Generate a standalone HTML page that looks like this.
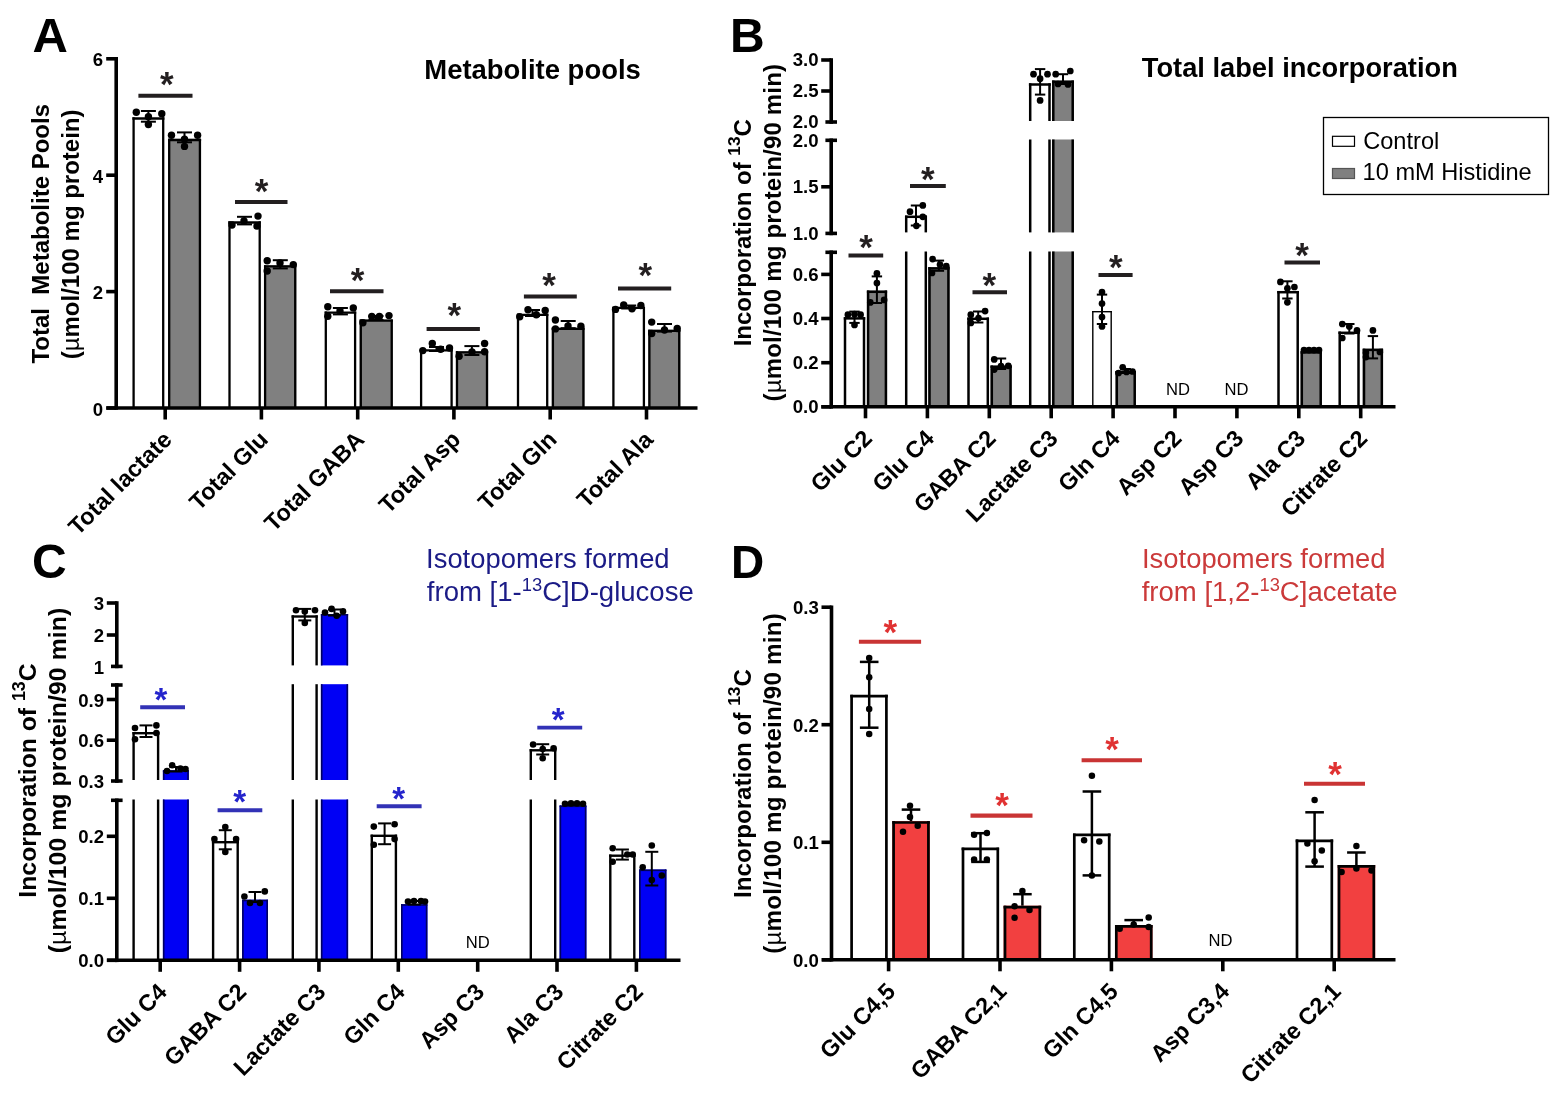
<!DOCTYPE html>
<html><head><meta charset="utf-8"><title>Figure</title>
<style>html,body{margin:0;padding:0;background:#fff}svg{display:block}text{font-family:"Liberation Sans",sans-serif}</style>
</head><body>
<svg width="1568" height="1100" viewBox="0 0 1568 1100">
<rect width="1568" height="1100" fill="#fff"/>
<text x="32.6" y="52.0" font-size="49" font-weight="bold" text-anchor="start" fill="#000" >A</text>
<rect x="132.4" y="117.3" width="32.0" height="290.7" fill="#fff" stroke="none" stroke-width="0"/>
<line x1="133.6" y1="117.3" x2="133.6" y2="408.0" stroke="#000" stroke-width="2.3" stroke-linecap="butt"/>
<line x1="163.2" y1="117.3" x2="163.2" y2="408.0" stroke="#000" stroke-width="2.3" stroke-linecap="butt"/>
<line x1="132.4" y1="118.5" x2="164.4" y2="118.5" stroke="#000" stroke-width="2.3" stroke-linecap="butt"/>
<line x1="148.4" y1="111.0" x2="148.4" y2="121.7" stroke="#000" stroke-width="2.0" stroke-linecap="butt"/>
<line x1="140.9" y1="111.0" x2="155.9" y2="111.0" stroke="#000" stroke-width="2.0" stroke-linecap="butt"/>
<line x1="140.9" y1="121.7" x2="155.9" y2="121.7" stroke="#000" stroke-width="2.0" stroke-linecap="butt"/>
<circle cx="136.3" cy="112.2" r="3.7" fill="#000"/>
<circle cx="161.8" cy="113.8" r="3.7" fill="#000"/>
<circle cx="148.4" cy="116.8" r="3.7" fill="#000"/>
<circle cx="148.4" cy="124.5" r="3.7" fill="#000"/>
<rect x="168.0" y="138.8" width="33.1" height="269.2" fill="#808080" stroke="none" stroke-width="0"/>
<line x1="169.2" y1="138.8" x2="169.2" y2="408.0" stroke="#000" stroke-width="2.3" stroke-linecap="butt"/>
<line x1="199.9" y1="138.8" x2="199.9" y2="408.0" stroke="#000" stroke-width="2.3" stroke-linecap="butt"/>
<line x1="168.0" y1="140.0" x2="201.1" y2="140.0" stroke="#000" stroke-width="2.3" stroke-linecap="butt"/>
<line x1="184.5" y1="132.4" x2="184.5" y2="142.3" stroke="#000" stroke-width="2.0" stroke-linecap="butt"/>
<line x1="177.0" y1="132.4" x2="192.0" y2="132.4" stroke="#000" stroke-width="2.0" stroke-linecap="butt"/>
<line x1="177.0" y1="142.3" x2="192.0" y2="142.3" stroke="#000" stroke-width="2.0" stroke-linecap="butt"/>
<circle cx="171.5" cy="135.2" r="3.7" fill="#000"/>
<circle cx="197.6" cy="135.2" r="3.7" fill="#000"/>
<circle cx="184.5" cy="139.3" r="3.7" fill="#000"/>
<circle cx="184.5" cy="146.4" r="3.7" fill="#000"/>
<rect x="228.3" y="221.3" width="32.5" height="186.7" fill="#fff" stroke="none" stroke-width="0"/>
<line x1="229.5" y1="221.3" x2="229.5" y2="408.0" stroke="#000" stroke-width="2.3" stroke-linecap="butt"/>
<line x1="259.7" y1="221.3" x2="259.7" y2="408.0" stroke="#000" stroke-width="2.3" stroke-linecap="butt"/>
<line x1="228.3" y1="222.5" x2="260.8" y2="222.5" stroke="#000" stroke-width="2.3" stroke-linecap="butt"/>
<line x1="244.5" y1="216.8" x2="244.5" y2="224.4" stroke="#000" stroke-width="2.0" stroke-linecap="butt"/>
<line x1="237.0" y1="216.8" x2="252.0" y2="216.8" stroke="#000" stroke-width="2.0" stroke-linecap="butt"/>
<line x1="237.0" y1="224.4" x2="252.0" y2="224.4" stroke="#000" stroke-width="2.0" stroke-linecap="butt"/>
<circle cx="258.0" cy="216.1" r="3.7" fill="#000"/>
<circle cx="232.0" cy="225.0" r="3.7" fill="#000"/>
<circle cx="257.0" cy="226.0" r="3.7" fill="#000"/>
<circle cx="244.0" cy="221.0" r="3.7" fill="#000"/>
<rect x="264.0" y="265.3" width="32.3" height="142.7" fill="#808080" stroke="none" stroke-width="0"/>
<line x1="265.1" y1="265.3" x2="265.1" y2="408.0" stroke="#000" stroke-width="2.3" stroke-linecap="butt"/>
<line x1="295.2" y1="265.3" x2="295.2" y2="408.0" stroke="#000" stroke-width="2.3" stroke-linecap="butt"/>
<line x1="264.0" y1="266.4" x2="296.3" y2="266.4" stroke="#000" stroke-width="2.3" stroke-linecap="butt"/>
<line x1="280.3" y1="260.2" x2="280.3" y2="268.4" stroke="#000" stroke-width="2.0" stroke-linecap="butt"/>
<line x1="272.8" y1="260.2" x2="287.8" y2="260.2" stroke="#000" stroke-width="2.0" stroke-linecap="butt"/>
<line x1="272.8" y1="268.4" x2="287.8" y2="268.4" stroke="#000" stroke-width="2.0" stroke-linecap="butt"/>
<circle cx="267.2" cy="260.8" r="3.7" fill="#000"/>
<circle cx="293.3" cy="264.6" r="3.7" fill="#000"/>
<circle cx="267.2" cy="271.0" r="3.7" fill="#000"/>
<circle cx="280.0" cy="263.0" r="3.7" fill="#000"/>
<rect x="324.6" y="311.5" width="31.6" height="96.5" fill="#fff" stroke="none" stroke-width="0"/>
<line x1="325.8" y1="311.5" x2="325.8" y2="408.0" stroke="#000" stroke-width="2.3" stroke-linecap="butt"/>
<line x1="355.1" y1="311.5" x2="355.1" y2="408.0" stroke="#000" stroke-width="2.3" stroke-linecap="butt"/>
<line x1="324.6" y1="312.6" x2="356.2" y2="312.6" stroke="#000" stroke-width="2.3" stroke-linecap="butt"/>
<line x1="340.4" y1="308.0" x2="340.4" y2="314.4" stroke="#000" stroke-width="2.0" stroke-linecap="butt"/>
<line x1="332.9" y1="308.0" x2="347.9" y2="308.0" stroke="#000" stroke-width="2.0" stroke-linecap="butt"/>
<line x1="332.9" y1="314.4" x2="347.9" y2="314.4" stroke="#000" stroke-width="2.0" stroke-linecap="butt"/>
<circle cx="327.8" cy="306.7" r="3.7" fill="#000"/>
<circle cx="327.8" cy="316.3" r="3.7" fill="#000"/>
<circle cx="353.3" cy="308.0" r="3.7" fill="#000"/>
<circle cx="340.0" cy="311.0" r="3.7" fill="#000"/>
<rect x="359.7" y="319.5" width="33.1" height="88.5" fill="#808080" stroke="none" stroke-width="0"/>
<line x1="360.8" y1="319.5" x2="360.8" y2="408.0" stroke="#000" stroke-width="2.3" stroke-linecap="butt"/>
<line x1="391.7" y1="319.5" x2="391.7" y2="408.0" stroke="#000" stroke-width="2.3" stroke-linecap="butt"/>
<line x1="359.7" y1="320.6" x2="392.8" y2="320.6" stroke="#000" stroke-width="2.3" stroke-linecap="butt"/>
<line x1="376.0" y1="316.0" x2="376.0" y2="320.0" stroke="#000" stroke-width="2.0" stroke-linecap="butt"/>
<line x1="368.5" y1="316.0" x2="383.5" y2="316.0" stroke="#000" stroke-width="2.0" stroke-linecap="butt"/>
<line x1="368.5" y1="320.0" x2="383.5" y2="320.0" stroke="#000" stroke-width="2.0" stroke-linecap="butt"/>
<circle cx="389.0" cy="315.6" r="3.7" fill="#000"/>
<circle cx="371.8" cy="316.5" r="3.7" fill="#000"/>
<circle cx="379.4" cy="316.5" r="3.7" fill="#000"/>
<circle cx="362.9" cy="322.7" r="3.7" fill="#000"/>
<rect x="420.0" y="349.3" width="32.7" height="58.7" fill="#fff" stroke="none" stroke-width="0"/>
<line x1="421.1" y1="349.3" x2="421.1" y2="408.0" stroke="#000" stroke-width="2.3" stroke-linecap="butt"/>
<line x1="451.6" y1="349.3" x2="451.6" y2="408.0" stroke="#000" stroke-width="2.3" stroke-linecap="butt"/>
<line x1="420.0" y1="350.4" x2="452.7" y2="350.4" stroke="#000" stroke-width="2.3" stroke-linecap="butt"/>
<line x1="436.5" y1="347.0" x2="436.5" y2="351.0" stroke="#000" stroke-width="2.0" stroke-linecap="butt"/>
<line x1="429.0" y1="347.0" x2="444.0" y2="347.0" stroke="#000" stroke-width="2.0" stroke-linecap="butt"/>
<line x1="429.0" y1="351.0" x2="444.0" y2="351.0" stroke="#000" stroke-width="2.0" stroke-linecap="butt"/>
<circle cx="432.3" cy="343.5" r="3.7" fill="#000"/>
<circle cx="422.8" cy="350.6" r="3.7" fill="#000"/>
<circle cx="449.5" cy="348.0" r="3.7" fill="#000"/>
<circle cx="440.6" cy="349.3" r="3.7" fill="#000"/>
<rect x="455.9" y="351.2" width="32.2" height="56.8" fill="#808080" stroke="none" stroke-width="0"/>
<line x1="457.0" y1="351.2" x2="457.0" y2="408.0" stroke="#000" stroke-width="2.3" stroke-linecap="butt"/>
<line x1="487.0" y1="351.2" x2="487.0" y2="408.0" stroke="#000" stroke-width="2.3" stroke-linecap="butt"/>
<line x1="455.9" y1="352.3" x2="488.1" y2="352.3" stroke="#000" stroke-width="2.3" stroke-linecap="butt"/>
<line x1="471.9" y1="346.1" x2="471.9" y2="355.0" stroke="#000" stroke-width="2.0" stroke-linecap="butt"/>
<line x1="464.4" y1="346.1" x2="479.4" y2="346.1" stroke="#000" stroke-width="2.0" stroke-linecap="butt"/>
<line x1="464.4" y1="355.0" x2="479.4" y2="355.0" stroke="#000" stroke-width="2.0" stroke-linecap="butt"/>
<circle cx="484.6" cy="343.5" r="3.7" fill="#000"/>
<circle cx="484.6" cy="351.8" r="3.7" fill="#000"/>
<circle cx="459.1" cy="356.3" r="3.7" fill="#000"/>
<circle cx="472.0" cy="352.0" r="3.7" fill="#000"/>
<rect x="516.9" y="313.6" width="31.5" height="94.4" fill="#fff" stroke="none" stroke-width="0"/>
<line x1="518.0" y1="313.6" x2="518.0" y2="408.0" stroke="#000" stroke-width="2.3" stroke-linecap="butt"/>
<line x1="547.2" y1="313.6" x2="547.2" y2="408.0" stroke="#000" stroke-width="2.3" stroke-linecap="butt"/>
<line x1="516.9" y1="314.8" x2="548.4" y2="314.8" stroke="#000" stroke-width="2.3" stroke-linecap="butt"/>
<line x1="532.5" y1="310.0" x2="532.5" y2="316.0" stroke="#000" stroke-width="2.0" stroke-linecap="butt"/>
<line x1="525.0" y1="310.0" x2="540.0" y2="310.0" stroke="#000" stroke-width="2.0" stroke-linecap="butt"/>
<line x1="525.0" y1="316.0" x2="540.0" y2="316.0" stroke="#000" stroke-width="2.0" stroke-linecap="butt"/>
<circle cx="528.0" cy="309.7" r="3.7" fill="#000"/>
<circle cx="545.2" cy="310.4" r="3.7" fill="#000"/>
<circle cx="519.7" cy="316.8" r="3.7" fill="#000"/>
<circle cx="536.3" cy="314.8" r="3.7" fill="#000"/>
<rect x="551.8" y="327.6" width="32.7" height="80.4" fill="#808080" stroke="none" stroke-width="0"/>
<line x1="552.9" y1="327.6" x2="552.9" y2="408.0" stroke="#000" stroke-width="2.3" stroke-linecap="butt"/>
<line x1="583.4" y1="327.6" x2="583.4" y2="408.0" stroke="#000" stroke-width="2.3" stroke-linecap="butt"/>
<line x1="551.8" y1="328.8" x2="584.5" y2="328.8" stroke="#000" stroke-width="2.3" stroke-linecap="butt"/>
<line x1="568.2" y1="321.0" x2="568.2" y2="328.2" stroke="#000" stroke-width="2.0" stroke-linecap="butt"/>
<line x1="560.7" y1="321.0" x2="575.7" y2="321.0" stroke="#000" stroke-width="2.0" stroke-linecap="butt"/>
<line x1="560.7" y1="328.2" x2="575.7" y2="328.2" stroke="#000" stroke-width="2.0" stroke-linecap="butt"/>
<circle cx="555.4" cy="320.0" r="3.7" fill="#000"/>
<circle cx="555.4" cy="328.9" r="3.7" fill="#000"/>
<circle cx="580.9" cy="326.3" r="3.7" fill="#000"/>
<circle cx="568.0" cy="326.0" r="3.7" fill="#000"/>
<rect x="612.3" y="306.8" width="32.7" height="101.2" fill="#fff" stroke="none" stroke-width="0"/>
<line x1="613.4" y1="306.8" x2="613.4" y2="408.0" stroke="#000" stroke-width="2.3" stroke-linecap="butt"/>
<line x1="643.9" y1="306.8" x2="643.9" y2="408.0" stroke="#000" stroke-width="2.3" stroke-linecap="butt"/>
<line x1="612.3" y1="307.9" x2="645.0" y2="307.9" stroke="#000" stroke-width="2.3" stroke-linecap="butt"/>
<line x1="628.7" y1="305.5" x2="628.7" y2="308.5" stroke="#000" stroke-width="2.0" stroke-linecap="butt"/>
<line x1="621.2" y1="305.5" x2="636.2" y2="305.5" stroke="#000" stroke-width="2.0" stroke-linecap="butt"/>
<line x1="621.2" y1="308.5" x2="636.2" y2="308.5" stroke="#000" stroke-width="2.0" stroke-linecap="butt"/>
<circle cx="615.5" cy="309.4" r="3.7" fill="#000"/>
<circle cx="623.7" cy="304.9" r="3.7" fill="#000"/>
<circle cx="632.0" cy="308.7" r="3.7" fill="#000"/>
<circle cx="640.9" cy="305.5" r="3.7" fill="#000"/>
<rect x="648.3" y="329.7" width="32.1" height="78.3" fill="#808080" stroke="none" stroke-width="0"/>
<line x1="649.4" y1="329.7" x2="649.4" y2="408.0" stroke="#000" stroke-width="2.3" stroke-linecap="butt"/>
<line x1="679.2" y1="329.7" x2="679.2" y2="408.0" stroke="#000" stroke-width="2.3" stroke-linecap="butt"/>
<line x1="648.3" y1="330.8" x2="680.4" y2="330.8" stroke="#000" stroke-width="2.3" stroke-linecap="butt"/>
<line x1="664.5" y1="324.0" x2="664.5" y2="331.6" stroke="#000" stroke-width="2.0" stroke-linecap="butt"/>
<line x1="657.0" y1="324.0" x2="672.0" y2="324.0" stroke="#000" stroke-width="2.0" stroke-linecap="butt"/>
<line x1="657.0" y1="331.6" x2="672.0" y2="331.6" stroke="#000" stroke-width="2.0" stroke-linecap="butt"/>
<circle cx="651.7" cy="322.1" r="3.7" fill="#000"/>
<circle cx="651.7" cy="333.5" r="3.7" fill="#000"/>
<circle cx="677.2" cy="328.5" r="3.7" fill="#000"/>
<circle cx="664.5" cy="330.0" r="3.7" fill="#000"/>
<line x1="116.2" y1="409.8" x2="116.2" y2="57.0" stroke="#000" stroke-width="3.6" stroke-linecap="butt"/>
<line x1="106.2" y1="408.0" x2="116.2" y2="408.0" stroke="#000" stroke-width="3.6" stroke-linecap="butt"/>
<text x="103.0" y="415.6" font-size="18.6" font-weight="bold" text-anchor="end" fill="#000" >0</text>
<line x1="106.2" y1="291.6" x2="116.2" y2="291.6" stroke="#000" stroke-width="3.6" stroke-linecap="butt"/>
<text x="103.0" y="299.2" font-size="18.6" font-weight="bold" text-anchor="end" fill="#000" >2</text>
<line x1="106.2" y1="175.2" x2="116.2" y2="175.2" stroke="#000" stroke-width="3.6" stroke-linecap="butt"/>
<text x="103.0" y="182.8" font-size="18.6" font-weight="bold" text-anchor="end" fill="#000" >4</text>
<line x1="106.2" y1="58.8" x2="116.2" y2="58.8" stroke="#000" stroke-width="3.6" stroke-linecap="butt"/>
<text x="103.0" y="66.4" font-size="18.6" font-weight="bold" text-anchor="end" fill="#000" >6</text>
<line x1="106.5" y1="408.0" x2="697.5" y2="408.0" stroke="#000" stroke-width="3.6" stroke-linecap="butt"/>
<line x1="165.2" y1="408.0" x2="165.2" y2="419.5" stroke="#000" stroke-width="3.6" stroke-linecap="butt"/>
<line x1="261.4" y1="408.0" x2="261.4" y2="419.5" stroke="#000" stroke-width="3.6" stroke-linecap="butt"/>
<line x1="357.7" y1="408.0" x2="357.7" y2="419.5" stroke="#000" stroke-width="3.6" stroke-linecap="butt"/>
<line x1="453.9" y1="408.0" x2="453.9" y2="419.5" stroke="#000" stroke-width="3.6" stroke-linecap="butt"/>
<line x1="550.2" y1="408.0" x2="550.2" y2="419.5" stroke="#000" stroke-width="3.6" stroke-linecap="butt"/>
<line x1="646.5" y1="408.0" x2="646.5" y2="419.5" stroke="#000" stroke-width="3.6" stroke-linecap="butt"/>
<text x="173.2" y="441.0" font-size="23.4" font-weight="bold" text-anchor="end" fill="#000" transform="rotate(-45 173.2 441.0)" >Total lactate</text>
<text x="269.4" y="441.0" font-size="23.4" font-weight="bold" text-anchor="end" fill="#000" transform="rotate(-45 269.4 441.0)" >Total Glu</text>
<text x="365.7" y="441.0" font-size="23.4" font-weight="bold" text-anchor="end" fill="#000" transform="rotate(-45 365.7 441.0)" >Total GABA</text>
<text x="461.9" y="441.0" font-size="23.4" font-weight="bold" text-anchor="end" fill="#000" transform="rotate(-45 461.9 441.0)" >Total Asp</text>
<text x="558.2" y="441.0" font-size="23.4" font-weight="bold" text-anchor="end" fill="#000" transform="rotate(-45 558.2 441.0)" >Total Gln</text>
<text x="654.5" y="441.0" font-size="23.4" font-weight="bold" text-anchor="end" fill="#000" transform="rotate(-45 654.5 441.0)" >Total Ala</text>
<line x1="138.4" y1="95.7" x2="192.5" y2="95.7" stroke="#231f20" stroke-width="4" stroke-linecap="butt"/>
<text x="166.9" y="96.4" font-size="35" font-weight="bold" text-anchor="middle" fill="#231f20" >*</text>
<line x1="235.0" y1="202.0" x2="287.5" y2="202.0" stroke="#231f20" stroke-width="4" stroke-linecap="butt"/>
<text x="261.5" y="202.8" font-size="35" font-weight="bold" text-anchor="middle" fill="#231f20" >*</text>
<line x1="330.0" y1="291.3" x2="383.5" y2="291.3" stroke="#231f20" stroke-width="4" stroke-linecap="butt"/>
<text x="357.5" y="292.4" font-size="35" font-weight="bold" text-anchor="middle" fill="#231f20" >*</text>
<line x1="426.6" y1="328.9" x2="479.9" y2="328.9" stroke="#231f20" stroke-width="4" stroke-linecap="butt"/>
<text x="454.4" y="326.7" font-size="35" font-weight="bold" text-anchor="middle" fill="#231f20" >*</text>
<line x1="523.9" y1="296.4" x2="576.8" y2="296.4" stroke="#231f20" stroke-width="4" stroke-linecap="butt"/>
<text x="549.0" y="297.0" font-size="35" font-weight="bold" text-anchor="middle" fill="#231f20" >*</text>
<line x1="618.0" y1="288.4" x2="671.2" y2="288.4" stroke="#231f20" stroke-width="4" stroke-linecap="butt"/>
<text x="645.4" y="286.5" font-size="35" font-weight="bold" text-anchor="middle" fill="#231f20" >*</text>
<text x="424.3" y="79.0" font-size="27" font-weight="bold" text-anchor="start" fill="#000" textLength="216.5" lengthAdjust="spacingAndGlyphs">Metabolite pools</text>
<text x="49.4" y="233.8" font-size="24" font-weight="bold" text-anchor="middle" fill="#000" transform="rotate(-90 49.4 233.8)" >Total&#160;&#160;Metabolite Pools</text>
<text x="79.5" y="234.4" font-size="24" font-weight="bold" text-anchor="middle" fill="#000" transform="rotate(-90 79.5 234.4)" >(<tspan font-weight="normal">µ</tspan>mol/100 mg protein)</text>
<text x="730.0" y="51.5" font-size="48" font-weight="bold" text-anchor="start" fill="#000" >B</text>
<rect x="843.8" y="317.2" width="21.4" height="89.6" fill="#fff" stroke="none" stroke-width="0"/>
<line x1="845.0" y1="317.2" x2="845.0" y2="406.8" stroke="#000" stroke-width="2.5" stroke-linecap="butt"/>
<line x1="864.0" y1="317.2" x2="864.0" y2="406.8" stroke="#000" stroke-width="2.5" stroke-linecap="butt"/>
<line x1="843.8" y1="318.4" x2="865.2" y2="318.4" stroke="#000" stroke-width="2.5" stroke-linecap="butt"/>
<line x1="854.5" y1="311.6" x2="854.5" y2="322.9" stroke="#000" stroke-width="2.0" stroke-linecap="butt"/>
<line x1="849.3" y1="311.6" x2="859.7" y2="311.6" stroke="#000" stroke-width="2.0" stroke-linecap="butt"/>
<line x1="849.3" y1="322.9" x2="859.7" y2="322.9" stroke="#000" stroke-width="2.0" stroke-linecap="butt"/>
<circle cx="847.9" cy="314.7" r="3.35" fill="#000"/>
<circle cx="854.5" cy="314.2" r="3.35" fill="#000"/>
<circle cx="860.6" cy="314.7" r="3.35" fill="#000"/>
<circle cx="854.5" cy="324.9" r="3.35" fill="#000"/>
<rect x="866.9" y="290.5" width="20.2" height="116.3" fill="#808080" stroke="none" stroke-width="0"/>
<line x1="868.1" y1="290.5" x2="868.1" y2="406.8" stroke="#000" stroke-width="2.5" stroke-linecap="butt"/>
<line x1="885.9" y1="290.5" x2="885.9" y2="406.8" stroke="#000" stroke-width="2.5" stroke-linecap="butt"/>
<line x1="866.9" y1="291.8" x2="887.1" y2="291.8" stroke="#000" stroke-width="2.5" stroke-linecap="butt"/>
<line x1="876.9" y1="276.4" x2="876.9" y2="303.0" stroke="#000" stroke-width="2.0" stroke-linecap="butt"/>
<line x1="871.7" y1="276.4" x2="882.1" y2="276.4" stroke="#000" stroke-width="2.0" stroke-linecap="butt"/>
<line x1="871.7" y1="303.0" x2="882.1" y2="303.0" stroke="#000" stroke-width="2.0" stroke-linecap="butt"/>
<circle cx="876.9" cy="273.4" r="3.35" fill="#000"/>
<circle cx="876.9" cy="283.0" r="3.35" fill="#000"/>
<circle cx="870.3" cy="302.4" r="3.35" fill="#000"/>
<circle cx="884.1" cy="299.9" r="3.35" fill="#000"/>
<rect x="905.0" y="251.5" width="22.0" height="155.3" fill="#fff" stroke="none" stroke-width="0"/>
<line x1="906.2" y1="251.5" x2="906.2" y2="406.8" stroke="#000" stroke-width="2.5" stroke-linecap="butt"/>
<line x1="925.8" y1="251.5" x2="925.8" y2="406.8" stroke="#000" stroke-width="2.5" stroke-linecap="butt"/>
<rect x="905.0" y="215.5" width="22.0" height="16.9" fill="#fff" stroke="none" stroke-width="0"/>
<line x1="906.2" y1="215.5" x2="906.2" y2="232.4" stroke="#000" stroke-width="2.5" stroke-linecap="butt"/>
<line x1="925.8" y1="215.5" x2="925.8" y2="232.4" stroke="#000" stroke-width="2.5" stroke-linecap="butt"/>
<line x1="905.0" y1="216.8" x2="927.0" y2="216.8" stroke="#000" stroke-width="2.5" stroke-linecap="butt"/>
<line x1="916.0" y1="205.5" x2="916.0" y2="225.5" stroke="#000" stroke-width="2.0" stroke-linecap="butt"/>
<line x1="910.8" y1="205.5" x2="921.2" y2="205.5" stroke="#000" stroke-width="2.0" stroke-linecap="butt"/>
<line x1="910.8" y1="225.5" x2="921.2" y2="225.5" stroke="#000" stroke-width="2.0" stroke-linecap="butt"/>
<circle cx="922.8" cy="205.4" r="3.35" fill="#000"/>
<circle cx="910.0" cy="211.7" r="3.35" fill="#000"/>
<circle cx="922.8" cy="216.8" r="3.35" fill="#000"/>
<circle cx="916.4" cy="225.8" r="3.35" fill="#000"/>
<rect x="928.2" y="267.2" width="21.4" height="139.6" fill="#808080" stroke="none" stroke-width="0"/>
<line x1="929.5" y1="267.2" x2="929.5" y2="406.8" stroke="#000" stroke-width="2.5" stroke-linecap="butt"/>
<line x1="948.4" y1="267.2" x2="948.4" y2="406.8" stroke="#000" stroke-width="2.5" stroke-linecap="butt"/>
<line x1="928.2" y1="268.4" x2="949.6" y2="268.4" stroke="#000" stroke-width="2.5" stroke-linecap="butt"/>
<line x1="938.9" y1="260.6" x2="938.9" y2="270.8" stroke="#000" stroke-width="2.0" stroke-linecap="butt"/>
<line x1="933.7" y1="260.6" x2="944.1" y2="260.6" stroke="#000" stroke-width="2.0" stroke-linecap="butt"/>
<line x1="933.7" y1="270.8" x2="944.1" y2="270.8" stroke="#000" stroke-width="2.0" stroke-linecap="butt"/>
<circle cx="932.6" cy="259.1" r="3.35" fill="#000"/>
<circle cx="946.3" cy="266.2" r="3.35" fill="#000"/>
<circle cx="932.0" cy="272.9" r="3.35" fill="#000"/>
<circle cx="940.0" cy="264.5" r="3.35" fill="#000"/>
<rect x="967.3" y="317.5" width="21.7" height="89.3" fill="#fff" stroke="none" stroke-width="0"/>
<line x1="968.5" y1="317.5" x2="968.5" y2="406.8" stroke="#000" stroke-width="2.5" stroke-linecap="butt"/>
<line x1="987.8" y1="317.5" x2="987.8" y2="406.8" stroke="#000" stroke-width="2.5" stroke-linecap="butt"/>
<line x1="967.3" y1="318.8" x2="989.0" y2="318.8" stroke="#000" stroke-width="2.5" stroke-linecap="butt"/>
<line x1="978.2" y1="311.5" x2="978.2" y2="322.5" stroke="#000" stroke-width="2.0" stroke-linecap="butt"/>
<line x1="973.0" y1="311.5" x2="983.4" y2="311.5" stroke="#000" stroke-width="2.0" stroke-linecap="butt"/>
<line x1="973.0" y1="322.5" x2="983.4" y2="322.5" stroke="#000" stroke-width="2.0" stroke-linecap="butt"/>
<circle cx="985.1" cy="311.1" r="3.35" fill="#000"/>
<circle cx="970.8" cy="314.7" r="3.35" fill="#000"/>
<circle cx="970.8" cy="322.9" r="3.35" fill="#000"/>
<circle cx="978.5" cy="318.0" r="3.35" fill="#000"/>
<rect x="990.5" y="365.5" width="21.2" height="41.3" fill="#808080" stroke="none" stroke-width="0"/>
<line x1="991.8" y1="365.5" x2="991.8" y2="406.8" stroke="#000" stroke-width="2.5" stroke-linecap="butt"/>
<line x1="1010.5" y1="365.5" x2="1010.5" y2="406.8" stroke="#000" stroke-width="2.5" stroke-linecap="butt"/>
<line x1="990.5" y1="366.8" x2="1011.7" y2="366.8" stroke="#000" stroke-width="2.5" stroke-linecap="butt"/>
<line x1="1001.0" y1="358.5" x2="1001.0" y2="369.0" stroke="#000" stroke-width="2.0" stroke-linecap="butt"/>
<line x1="995.8" y1="358.5" x2="1006.2" y2="358.5" stroke="#000" stroke-width="2.0" stroke-linecap="butt"/>
<line x1="995.8" y1="369.0" x2="1006.2" y2="369.0" stroke="#000" stroke-width="2.0" stroke-linecap="butt"/>
<circle cx="994.2" cy="359.4" r="3.35" fill="#000"/>
<circle cx="1008.3" cy="365.8" r="3.35" fill="#000"/>
<circle cx="994.2" cy="369.6" r="3.35" fill="#000"/>
<circle cx="1001.0" cy="366.0" r="3.35" fill="#000"/>
<rect x="1028.9" y="251.5" width="21.9" height="155.3" fill="#fff" stroke="none" stroke-width="0"/>
<line x1="1030.2" y1="251.5" x2="1030.2" y2="406.8" stroke="#000" stroke-width="2.5" stroke-linecap="butt"/>
<line x1="1049.5" y1="251.5" x2="1049.5" y2="406.8" stroke="#000" stroke-width="2.5" stroke-linecap="butt"/>
<rect x="1028.9" y="139.5" width="21.9" height="92.9" fill="#fff" stroke="none" stroke-width="0"/>
<line x1="1030.2" y1="139.5" x2="1030.2" y2="232.4" stroke="#000" stroke-width="2.5" stroke-linecap="butt"/>
<line x1="1049.5" y1="139.5" x2="1049.5" y2="232.4" stroke="#000" stroke-width="2.5" stroke-linecap="butt"/>
<rect x="1028.9" y="83.3" width="21.9" height="37.7" fill="#fff" stroke="none" stroke-width="0"/>
<line x1="1030.2" y1="83.3" x2="1030.2" y2="121.0" stroke="#000" stroke-width="2.5" stroke-linecap="butt"/>
<line x1="1049.5" y1="83.3" x2="1049.5" y2="121.0" stroke="#000" stroke-width="2.5" stroke-linecap="butt"/>
<line x1="1028.9" y1="84.5" x2="1050.8" y2="84.5" stroke="#000" stroke-width="2.5" stroke-linecap="butt"/>
<line x1="1040.1" y1="69.1" x2="1040.1" y2="94.6" stroke="#000" stroke-width="2.0" stroke-linecap="butt"/>
<line x1="1034.9" y1="69.1" x2="1045.3" y2="69.1" stroke="#000" stroke-width="2.0" stroke-linecap="butt"/>
<line x1="1034.9" y1="94.6" x2="1045.3" y2="94.6" stroke="#000" stroke-width="2.0" stroke-linecap="butt"/>
<circle cx="1033.5" cy="74.2" r="3.35" fill="#000"/>
<circle cx="1047.5" cy="74.2" r="3.35" fill="#000"/>
<circle cx="1040.1" cy="78.7" r="3.35" fill="#000"/>
<circle cx="1040.1" cy="100.4" r="3.35" fill="#000"/>
<rect x="1052.1" y="251.5" width="21.8" height="155.3" fill="#808080" stroke="none" stroke-width="0"/>
<line x1="1053.3" y1="251.5" x2="1053.3" y2="406.8" stroke="#000" stroke-width="2.5" stroke-linecap="butt"/>
<line x1="1072.7" y1="251.5" x2="1072.7" y2="406.8" stroke="#000" stroke-width="2.5" stroke-linecap="butt"/>
<rect x="1052.1" y="139.5" width="21.8" height="92.9" fill="#808080" stroke="none" stroke-width="0"/>
<line x1="1053.3" y1="139.5" x2="1053.3" y2="232.4" stroke="#000" stroke-width="2.5" stroke-linecap="butt"/>
<line x1="1072.7" y1="139.5" x2="1072.7" y2="232.4" stroke="#000" stroke-width="2.5" stroke-linecap="butt"/>
<rect x="1052.1" y="80.5" width="21.8" height="40.5" fill="#808080" stroke="none" stroke-width="0"/>
<line x1="1053.3" y1="80.5" x2="1053.3" y2="121.0" stroke="#000" stroke-width="2.5" stroke-linecap="butt"/>
<line x1="1072.7" y1="80.5" x2="1072.7" y2="121.0" stroke="#000" stroke-width="2.5" stroke-linecap="butt"/>
<line x1="1052.1" y1="81.8" x2="1073.9" y2="81.8" stroke="#000" stroke-width="2.5" stroke-linecap="butt"/>
<line x1="1063.0" y1="74.2" x2="1063.0" y2="84.0" stroke="#000" stroke-width="2.0" stroke-linecap="butt"/>
<line x1="1057.8" y1="74.2" x2="1068.2" y2="74.2" stroke="#000" stroke-width="2.0" stroke-linecap="butt"/>
<line x1="1057.8" y1="84.0" x2="1068.2" y2="84.0" stroke="#000" stroke-width="2.0" stroke-linecap="butt"/>
<circle cx="1070.3" cy="71.0" r="3.35" fill="#000"/>
<circle cx="1055.7" cy="74.2" r="3.35" fill="#000"/>
<circle cx="1058.0" cy="84.0" r="3.35" fill="#000"/>
<circle cx="1068.0" cy="84.5" r="3.35" fill="#000"/>
<rect x="1092.1" y="311.0" width="19.8" height="95.8" fill="#fff" stroke="none" stroke-width="0"/>
<line x1="1092.8" y1="311.0" x2="1092.8" y2="406.8" stroke="#000" stroke-width="1.4" stroke-linecap="butt"/>
<line x1="1111.2" y1="311.0" x2="1111.2" y2="406.8" stroke="#000" stroke-width="1.4" stroke-linecap="butt"/>
<line x1="1092.1" y1="311.7" x2="1111.9" y2="311.7" stroke="#000" stroke-width="1.4" stroke-linecap="butt"/>
<line x1="1102.0" y1="294.6" x2="1102.0" y2="324.0" stroke="#000" stroke-width="2.0" stroke-linecap="butt"/>
<line x1="1096.8" y1="294.6" x2="1107.2" y2="294.6" stroke="#000" stroke-width="2.0" stroke-linecap="butt"/>
<line x1="1096.8" y1="324.0" x2="1107.2" y2="324.0" stroke="#000" stroke-width="2.0" stroke-linecap="butt"/>
<circle cx="1102.0" cy="292.1" r="3.35" fill="#000"/>
<circle cx="1102.0" cy="303.6" r="3.35" fill="#000"/>
<circle cx="1102.0" cy="317.0" r="3.35" fill="#000"/>
<circle cx="1102.0" cy="326.5" r="3.35" fill="#000"/>
<rect x="1115.5" y="371.0" width="20.4" height="35.8" fill="#808080" stroke="none" stroke-width="0"/>
<line x1="1116.8" y1="371.0" x2="1116.8" y2="406.8" stroke="#000" stroke-width="2.5" stroke-linecap="butt"/>
<line x1="1134.7" y1="371.0" x2="1134.7" y2="406.8" stroke="#000" stroke-width="2.5" stroke-linecap="butt"/>
<line x1="1115.5" y1="372.2" x2="1135.9" y2="372.2" stroke="#000" stroke-width="2.5" stroke-linecap="butt"/>
<line x1="1125.7" y1="369.0" x2="1125.7" y2="373.0" stroke="#000" stroke-width="2.0" stroke-linecap="butt"/>
<line x1="1120.5" y1="369.0" x2="1130.9" y2="369.0" stroke="#000" stroke-width="2.0" stroke-linecap="butt"/>
<line x1="1120.5" y1="373.0" x2="1130.9" y2="373.0" stroke="#000" stroke-width="2.0" stroke-linecap="butt"/>
<circle cx="1122.7" cy="367.3" r="3.35" fill="#000"/>
<circle cx="1118.5" cy="373.0" r="3.35" fill="#000"/>
<circle cx="1126.5" cy="372.0" r="3.35" fill="#000"/>
<circle cx="1132.5" cy="371.5" r="3.35" fill="#000"/>
<rect x="1277.2" y="291.0" width="21.7" height="115.8" fill="#fff" stroke="none" stroke-width="0"/>
<line x1="1278.5" y1="291.0" x2="1278.5" y2="406.8" stroke="#000" stroke-width="2.5" stroke-linecap="butt"/>
<line x1="1297.7" y1="291.0" x2="1297.7" y2="406.8" stroke="#000" stroke-width="2.5" stroke-linecap="butt"/>
<line x1="1277.2" y1="292.2" x2="1298.9" y2="292.2" stroke="#000" stroke-width="2.5" stroke-linecap="butt"/>
<line x1="1287.4" y1="281.3" x2="1287.4" y2="298.5" stroke="#000" stroke-width="2.0" stroke-linecap="butt"/>
<line x1="1282.2" y1="281.3" x2="1292.6" y2="281.3" stroke="#000" stroke-width="2.0" stroke-linecap="butt"/>
<line x1="1282.2" y1="298.5" x2="1292.6" y2="298.5" stroke="#000" stroke-width="2.0" stroke-linecap="butt"/>
<circle cx="1280.4" cy="281.9" r="3.35" fill="#000"/>
<circle cx="1294.4" cy="287.0" r="3.35" fill="#000"/>
<circle cx="1287.4" cy="288.3" r="3.35" fill="#000"/>
<circle cx="1287.4" cy="302.3" r="3.35" fill="#000"/>
<rect x="1300.6" y="351.2" width="21.3" height="55.6" fill="#808080" stroke="none" stroke-width="0"/>
<line x1="1301.8" y1="351.2" x2="1301.8" y2="406.8" stroke="#000" stroke-width="2.5" stroke-linecap="butt"/>
<line x1="1320.7" y1="351.2" x2="1320.7" y2="406.8" stroke="#000" stroke-width="2.5" stroke-linecap="butt"/>
<line x1="1300.6" y1="352.4" x2="1321.9" y2="352.4" stroke="#000" stroke-width="2.5" stroke-linecap="butt"/>
<line x1="1311.3" y1="350.0" x2="1311.3" y2="352.0" stroke="#000" stroke-width="2.0" stroke-linecap="butt"/>
<line x1="1306.1" y1="350.0" x2="1316.5" y2="350.0" stroke="#000" stroke-width="2.0" stroke-linecap="butt"/>
<line x1="1306.1" y1="352.0" x2="1316.5" y2="352.0" stroke="#000" stroke-width="2.0" stroke-linecap="butt"/>
<circle cx="1304.0" cy="350.1" r="3.35" fill="#000"/>
<circle cx="1309.0" cy="350.1" r="3.35" fill="#000"/>
<circle cx="1314.0" cy="350.1" r="3.35" fill="#000"/>
<circle cx="1319.0" cy="350.1" r="3.35" fill="#000"/>
<rect x="1338.4" y="331.5" width="21.3" height="75.3" fill="#fff" stroke="none" stroke-width="0"/>
<line x1="1339.7" y1="331.5" x2="1339.7" y2="406.8" stroke="#000" stroke-width="2.5" stroke-linecap="butt"/>
<line x1="1358.5" y1="331.5" x2="1358.5" y2="406.8" stroke="#000" stroke-width="2.5" stroke-linecap="butt"/>
<line x1="1338.4" y1="332.8" x2="1359.7" y2="332.8" stroke="#000" stroke-width="2.5" stroke-linecap="butt"/>
<line x1="1349.3" y1="324.0" x2="1349.3" y2="333.5" stroke="#000" stroke-width="2.0" stroke-linecap="butt"/>
<line x1="1344.1" y1="324.0" x2="1354.5" y2="324.0" stroke="#000" stroke-width="2.0" stroke-linecap="butt"/>
<line x1="1344.1" y1="333.5" x2="1354.5" y2="333.5" stroke="#000" stroke-width="2.0" stroke-linecap="butt"/>
<circle cx="1342.3" cy="324.0" r="3.35" fill="#000"/>
<circle cx="1357.0" cy="330.4" r="3.35" fill="#000"/>
<circle cx="1349.3" cy="326.5" r="3.35" fill="#000"/>
<circle cx="1342.3" cy="338.0" r="3.35" fill="#000"/>
<rect x="1362.7" y="348.7" width="20.4" height="58.1" fill="#808080" stroke="none" stroke-width="0"/>
<line x1="1364.0" y1="348.7" x2="1364.0" y2="406.8" stroke="#000" stroke-width="2.5" stroke-linecap="butt"/>
<line x1="1381.8" y1="348.7" x2="1381.8" y2="406.8" stroke="#000" stroke-width="2.5" stroke-linecap="butt"/>
<line x1="1362.7" y1="349.9" x2="1383.1" y2="349.9" stroke="#000" stroke-width="2.5" stroke-linecap="butt"/>
<line x1="1372.9" y1="336.1" x2="1372.9" y2="358.4" stroke="#000" stroke-width="2.0" stroke-linecap="butt"/>
<line x1="1367.7" y1="336.1" x2="1378.1" y2="336.1" stroke="#000" stroke-width="2.0" stroke-linecap="butt"/>
<line x1="1367.7" y1="358.4" x2="1378.1" y2="358.4" stroke="#000" stroke-width="2.0" stroke-linecap="butt"/>
<circle cx="1372.9" cy="330.4" r="3.35" fill="#000"/>
<circle cx="1365.9" cy="352.7" r="3.35" fill="#000"/>
<circle cx="1379.9" cy="352.0" r="3.35" fill="#000"/>
<circle cx="1365.9" cy="357.1" r="3.35" fill="#000"/>
<text x="1177.9" y="395.2" font-size="16.6" font-weight="normal" text-anchor="middle" fill="#000" >ND</text>
<text x="1236.6" y="395.2" font-size="16.6" font-weight="normal" text-anchor="middle" fill="#000" >ND</text>
<line x1="831.2" y1="408.6" x2="831.2" y2="250.5" stroke="#000" stroke-width="3.6" stroke-linecap="butt"/>
<line x1="831.2" y1="235.2" x2="831.2" y2="138.5" stroke="#000" stroke-width="3.6" stroke-linecap="butt"/>
<line x1="831.2" y1="123.8" x2="831.2" y2="58.2" stroke="#000" stroke-width="3.6" stroke-linecap="butt"/>
<line x1="821.2" y1="406.8" x2="831.2" y2="406.8" stroke="#000" stroke-width="3.6" stroke-linecap="butt"/>
<text x="818.5" y="413.1" font-size="18.6" font-weight="bold" text-anchor="end" fill="#000" >0.0</text>
<line x1="821.2" y1="362.7" x2="831.2" y2="362.7" stroke="#000" stroke-width="3.6" stroke-linecap="butt"/>
<text x="818.5" y="369.0" font-size="18.6" font-weight="bold" text-anchor="end" fill="#000" >0.2</text>
<line x1="821.2" y1="318.5" x2="831.2" y2="318.5" stroke="#000" stroke-width="3.6" stroke-linecap="butt"/>
<text x="818.5" y="324.8" font-size="18.6" font-weight="bold" text-anchor="end" fill="#000" >0.4</text>
<line x1="821.2" y1="274.4" x2="831.2" y2="274.4" stroke="#000" stroke-width="3.6" stroke-linecap="butt"/>
<text x="818.5" y="280.7" font-size="18.6" font-weight="bold" text-anchor="end" fill="#000" >0.6</text>
<line x1="825.4" y1="252.3" x2="837.0" y2="252.3" stroke="#000" stroke-width="3.6" stroke-linecap="butt"/>
<line x1="825.4" y1="233.4" x2="837.0" y2="233.4" stroke="#000" stroke-width="3.6" stroke-linecap="butt"/>
<text x="818.5" y="239.7" font-size="18.6" font-weight="bold" text-anchor="end" fill="#000" >1.0</text>
<line x1="821.2" y1="186.8" x2="831.2" y2="186.8" stroke="#000" stroke-width="3.6" stroke-linecap="butt"/>
<text x="818.5" y="193.1" font-size="18.6" font-weight="bold" text-anchor="end" fill="#000" >1.5</text>
<line x1="825.4" y1="140.3" x2="837.0" y2="140.3" stroke="#000" stroke-width="3.6" stroke-linecap="butt"/>
<text x="818.5" y="146.6" font-size="18.6" font-weight="bold" text-anchor="end" fill="#000" >2.0</text>
<line x1="825.4" y1="122.0" x2="837.0" y2="122.0" stroke="#000" stroke-width="3.6" stroke-linecap="butt"/>
<text x="818.5" y="128.3" font-size="18.6" font-weight="bold" text-anchor="end" fill="#000" >2.0</text>
<line x1="821.2" y1="91.0" x2="831.2" y2="91.0" stroke="#000" stroke-width="3.6" stroke-linecap="butt"/>
<text x="818.5" y="97.3" font-size="18.6" font-weight="bold" text-anchor="end" fill="#000" >2.5</text>
<line x1="821.2" y1="60.0" x2="831.2" y2="60.0" stroke="#000" stroke-width="3.6" stroke-linecap="butt"/>
<text x="818.5" y="66.3" font-size="18.6" font-weight="bold" text-anchor="end" fill="#000" >3.0</text>
<line x1="821.5" y1="406.8" x2="1395.5" y2="406.8" stroke="#000" stroke-width="3.6" stroke-linecap="butt"/>
<line x1="865.5" y1="406.8" x2="865.5" y2="418.3" stroke="#000" stroke-width="3.6" stroke-linecap="butt"/>
<line x1="927.4" y1="406.8" x2="927.4" y2="418.3" stroke="#000" stroke-width="3.6" stroke-linecap="butt"/>
<line x1="989.3" y1="406.8" x2="989.3" y2="418.3" stroke="#000" stroke-width="3.6" stroke-linecap="butt"/>
<line x1="1051.2" y1="406.8" x2="1051.2" y2="418.3" stroke="#000" stroke-width="3.6" stroke-linecap="butt"/>
<line x1="1113.1" y1="406.8" x2="1113.1" y2="418.3" stroke="#000" stroke-width="3.6" stroke-linecap="butt"/>
<line x1="1175.0" y1="406.8" x2="1175.0" y2="418.3" stroke="#000" stroke-width="3.6" stroke-linecap="butt"/>
<line x1="1236.9" y1="406.8" x2="1236.9" y2="418.3" stroke="#000" stroke-width="3.6" stroke-linecap="butt"/>
<line x1="1298.8" y1="406.8" x2="1298.8" y2="418.3" stroke="#000" stroke-width="3.6" stroke-linecap="butt"/>
<line x1="1360.7" y1="406.8" x2="1360.7" y2="418.3" stroke="#000" stroke-width="3.6" stroke-linecap="butt"/>
<text x="873.5" y="439.8" font-size="23.4" font-weight="bold" text-anchor="end" fill="#000" transform="rotate(-45 873.5 439.8)" >Glu C2</text>
<text x="935.4" y="439.8" font-size="23.4" font-weight="bold" text-anchor="end" fill="#000" transform="rotate(-45 935.4 439.8)" >Glu C4</text>
<text x="997.3" y="439.8" font-size="23.4" font-weight="bold" text-anchor="end" fill="#000" transform="rotate(-45 997.3 439.8)" >GABA C2</text>
<text x="1059.2" y="439.8" font-size="23.4" font-weight="bold" text-anchor="end" fill="#000" transform="rotate(-45 1059.2 439.8)" >Lactate C3</text>
<text x="1121.1" y="439.8" font-size="23.4" font-weight="bold" text-anchor="end" fill="#000" transform="rotate(-45 1121.1 439.8)" >Gln C4</text>
<text x="1183.0" y="439.8" font-size="23.4" font-weight="bold" text-anchor="end" fill="#000" transform="rotate(-45 1183.0 439.8)" >Asp C2</text>
<text x="1244.9" y="439.8" font-size="23.4" font-weight="bold" text-anchor="end" fill="#000" transform="rotate(-45 1244.9 439.8)" >Asp C3</text>
<text x="1306.8" y="439.8" font-size="23.4" font-weight="bold" text-anchor="end" fill="#000" transform="rotate(-45 1306.8 439.8)" >Ala C3</text>
<text x="1368.7" y="439.8" font-size="23.4" font-weight="bold" text-anchor="end" fill="#000" transform="rotate(-45 1368.7 439.8)" >Citrate C2</text>
<line x1="848.5" y1="255.6" x2="883.2" y2="255.6" stroke="#231f20" stroke-width="4" stroke-linecap="butt"/>
<text x="866.0" y="259.1" font-size="35" font-weight="bold" text-anchor="middle" fill="#231f20" >*</text>
<line x1="910.0" y1="185.9" x2="945.8" y2="185.9" stroke="#231f20" stroke-width="4" stroke-linecap="butt"/>
<text x="927.8" y="191.2" font-size="35" font-weight="bold" text-anchor="middle" fill="#231f20" >*</text>
<line x1="972.5" y1="292.2" x2="1007.0" y2="292.2" stroke="#231f20" stroke-width="4" stroke-linecap="butt"/>
<text x="989.2" y="296.6" font-size="35" font-weight="bold" text-anchor="middle" fill="#231f20" >*</text>
<line x1="1098.5" y1="274.9" x2="1132.6" y2="274.9" stroke="#231f20" stroke-width="4" stroke-linecap="butt"/>
<text x="1115.7" y="279.4" font-size="35" font-weight="bold" text-anchor="middle" fill="#231f20" >*</text>
<line x1="1284.5" y1="262.4" x2="1320.0" y2="262.4" stroke="#231f20" stroke-width="4" stroke-linecap="butt"/>
<text x="1302.0" y="266.9" font-size="35" font-weight="bold" text-anchor="middle" fill="#231f20" >*</text>
<text x="1141.8" y="77.0" font-size="27" font-weight="bold" text-anchor="start" fill="#000" textLength="316" lengthAdjust="spacingAndGlyphs">Total label incorporation</text>
<text x="751.0" y="232.7" font-size="24" font-weight="bold" text-anchor="middle" fill="#000" transform="rotate(-90 751.0 232.7)" >Incorporation of <tspan font-size="17.3" dy="-10.6">13</tspan><tspan dy="10.6">C</tspan></text>
<text x="781.0" y="232.7" font-size="24" font-weight="bold" text-anchor="middle" fill="#000" transform="rotate(-90 781.0 232.7)" textLength="337.5" lengthAdjust="spacing">(<tspan font-weight="normal">µ</tspan>mol/100 mg protein/90 min)</text>
<rect x="1323.5" y="117.5" width="225.0" height="77.0" fill="#fff" stroke="#000" stroke-width="1.3"/>
<rect x="1332.5" y="136.3" width="22.0" height="10.0" fill="#fff" stroke="#000" stroke-width="1.2"/>
<rect x="1332.5" y="168.5" width="22.0" height="10.0" fill="#808080" stroke="#555" stroke-width="1.2"/>
<text x="1363.2" y="148.6" font-size="23.6" font-weight="normal" text-anchor="start" fill="#000" >Control</text>
<text x="1362.6" y="180.3" font-size="23.6" font-weight="normal" text-anchor="start" fill="#000" >10 mM Histidine</text>
<text x="32.0" y="578.3" font-size="48" font-weight="bold" text-anchor="start" fill="#000" >C</text>
<rect x="132.4" y="799.5" width="26.9" height="160.8" fill="#fff" stroke="none" stroke-width="0"/>
<line x1="133.6" y1="799.5" x2="133.6" y2="960.3" stroke="#000" stroke-width="2.4" stroke-linecap="butt"/>
<line x1="158.1" y1="799.5" x2="158.1" y2="960.3" stroke="#000" stroke-width="2.4" stroke-linecap="butt"/>
<rect x="132.4" y="732.0" width="26.9" height="48.0" fill="#fff" stroke="none" stroke-width="0"/>
<line x1="133.6" y1="732.0" x2="133.6" y2="780.0" stroke="#000" stroke-width="2.4" stroke-linecap="butt"/>
<line x1="158.1" y1="732.0" x2="158.1" y2="780.0" stroke="#000" stroke-width="2.4" stroke-linecap="butt"/>
<line x1="132.4" y1="733.2" x2="159.3" y2="733.2" stroke="#000" stroke-width="2.4" stroke-linecap="butt"/>
<line x1="146.0" y1="725.4" x2="146.0" y2="737.0" stroke="#000" stroke-width="2.0" stroke-linecap="butt"/>
<line x1="139.5" y1="725.4" x2="152.5" y2="725.4" stroke="#000" stroke-width="2.0" stroke-linecap="butt"/>
<line x1="139.5" y1="737.0" x2="152.5" y2="737.0" stroke="#000" stroke-width="2.0" stroke-linecap="butt"/>
<circle cx="135.0" cy="728.0" r="3.3" fill="#000"/>
<circle cx="156.4" cy="725.4" r="3.3" fill="#000"/>
<circle cx="156.4" cy="733.0" r="3.3" fill="#000"/>
<circle cx="135.0" cy="739.2" r="3.3" fill="#000"/>
<rect x="162.9" y="799.5" width="25.9" height="160.8" fill="#0000f5" stroke="none" stroke-width="0"/>
<line x1="163.7" y1="799.5" x2="163.7" y2="960.3" stroke="#000060" stroke-width="1.6" stroke-linecap="butt"/>
<line x1="188.0" y1="799.5" x2="188.0" y2="960.3" stroke="#000060" stroke-width="1.6" stroke-linecap="butt"/>
<rect x="162.9" y="770.3" width="25.9" height="9.7" fill="#0000f5" stroke="none" stroke-width="0"/>
<line x1="163.7" y1="770.3" x2="163.7" y2="780.0" stroke="#000060" stroke-width="1.6" stroke-linecap="butt"/>
<line x1="188.0" y1="770.3" x2="188.0" y2="780.0" stroke="#000060" stroke-width="1.6" stroke-linecap="butt"/>
<line x1="162.9" y1="771.1" x2="188.8" y2="771.1" stroke="#000060" stroke-width="1.6" stroke-linecap="butt"/>
<line x1="176.0" y1="767.0" x2="176.0" y2="771.5" stroke="#000" stroke-width="2.0" stroke-linecap="butt"/>
<line x1="169.5" y1="767.0" x2="182.5" y2="767.0" stroke="#000" stroke-width="2.0" stroke-linecap="butt"/>
<line x1="169.5" y1="771.5" x2="182.5" y2="771.5" stroke="#000" stroke-width="2.0" stroke-linecap="butt"/>
<circle cx="172.2" cy="765.2" r="3.3" fill="#000"/>
<circle cx="180.4" cy="768.5" r="3.3" fill="#000"/>
<circle cx="185.5" cy="769.0" r="3.3" fill="#000"/>
<circle cx="167.0" cy="771.0" r="3.3" fill="#000"/>
<rect x="211.9" y="841.0" width="27.0" height="119.3" fill="#fff" stroke="none" stroke-width="0"/>
<line x1="213.1" y1="841.0" x2="213.1" y2="960.3" stroke="#000" stroke-width="2.4" stroke-linecap="butt"/>
<line x1="237.7" y1="841.0" x2="237.7" y2="960.3" stroke="#000" stroke-width="2.4" stroke-linecap="butt"/>
<line x1="211.9" y1="842.2" x2="238.9" y2="842.2" stroke="#000" stroke-width="2.4" stroke-linecap="butt"/>
<line x1="225.3" y1="830.2" x2="225.3" y2="849.3" stroke="#000" stroke-width="2.0" stroke-linecap="butt"/>
<line x1="218.8" y1="830.2" x2="231.8" y2="830.2" stroke="#000" stroke-width="2.0" stroke-linecap="butt"/>
<line x1="218.8" y1="849.3" x2="231.8" y2="849.3" stroke="#000" stroke-width="2.0" stroke-linecap="butt"/>
<circle cx="225.3" cy="827.0" r="3.3" fill="#000"/>
<circle cx="214.4" cy="839.1" r="3.3" fill="#000"/>
<circle cx="236.1" cy="839.1" r="3.3" fill="#000"/>
<circle cx="225.3" cy="851.9" r="3.3" fill="#000"/>
<rect x="242.1" y="899.7" width="25.9" height="60.6" fill="#0000f5" stroke="none" stroke-width="0"/>
<line x1="242.9" y1="899.7" x2="242.9" y2="960.3" stroke="#000060" stroke-width="1.6" stroke-linecap="butt"/>
<line x1="267.2" y1="899.7" x2="267.2" y2="960.3" stroke="#000060" stroke-width="1.6" stroke-linecap="butt"/>
<line x1="242.1" y1="900.5" x2="268.0" y2="900.5" stroke="#000060" stroke-width="1.6" stroke-linecap="butt"/>
<line x1="255.0" y1="892.0" x2="255.0" y2="902.0" stroke="#000" stroke-width="2.0" stroke-linecap="butt"/>
<line x1="248.5" y1="892.0" x2="261.5" y2="892.0" stroke="#000" stroke-width="2.0" stroke-linecap="butt"/>
<line x1="248.5" y1="902.0" x2="261.5" y2="902.0" stroke="#000" stroke-width="2.0" stroke-linecap="butt"/>
<circle cx="264.8" cy="891.4" r="3.3" fill="#000"/>
<circle cx="244.4" cy="896.5" r="3.3" fill="#000"/>
<circle cx="250.0" cy="903.0" r="3.3" fill="#000"/>
<circle cx="260.0" cy="903.0" r="3.3" fill="#000"/>
<rect x="291.6" y="799.5" width="26.2" height="160.8" fill="#fff" stroke="none" stroke-width="0"/>
<line x1="292.8" y1="799.5" x2="292.8" y2="960.3" stroke="#000" stroke-width="2.4" stroke-linecap="butt"/>
<line x1="316.6" y1="799.5" x2="316.6" y2="960.3" stroke="#000" stroke-width="2.4" stroke-linecap="butt"/>
<rect x="291.6" y="684.2" width="26.2" height="95.8" fill="#fff" stroke="none" stroke-width="0"/>
<line x1="292.8" y1="684.2" x2="292.8" y2="780.0" stroke="#000" stroke-width="2.4" stroke-linecap="butt"/>
<line x1="316.6" y1="684.2" x2="316.6" y2="780.0" stroke="#000" stroke-width="2.4" stroke-linecap="butt"/>
<rect x="291.6" y="615.3" width="26.2" height="50.1" fill="#fff" stroke="none" stroke-width="0"/>
<line x1="292.8" y1="615.3" x2="292.8" y2="665.4" stroke="#000" stroke-width="2.4" stroke-linecap="butt"/>
<line x1="316.6" y1="615.3" x2="316.6" y2="665.4" stroke="#000" stroke-width="2.4" stroke-linecap="butt"/>
<line x1="291.6" y1="616.5" x2="317.8" y2="616.5" stroke="#000" stroke-width="2.4" stroke-linecap="butt"/>
<line x1="304.8" y1="608.9" x2="304.8" y2="620.4" stroke="#000" stroke-width="2.0" stroke-linecap="butt"/>
<line x1="298.3" y1="608.9" x2="311.3" y2="608.9" stroke="#000" stroke-width="2.0" stroke-linecap="butt"/>
<line x1="298.3" y1="620.4" x2="311.3" y2="620.4" stroke="#000" stroke-width="2.0" stroke-linecap="butt"/>
<circle cx="296.0" cy="610.2" r="3.3" fill="#000"/>
<circle cx="315.0" cy="610.2" r="3.3" fill="#000"/>
<circle cx="304.8" cy="611.4" r="3.3" fill="#000"/>
<circle cx="304.8" cy="622.9" r="3.3" fill="#000"/>
<rect x="320.9" y="799.5" width="27.2" height="160.8" fill="#0000f5" stroke="none" stroke-width="0"/>
<line x1="321.7" y1="799.5" x2="321.7" y2="960.3" stroke="#000060" stroke-width="1.6" stroke-linecap="butt"/>
<line x1="347.3" y1="799.5" x2="347.3" y2="960.3" stroke="#000060" stroke-width="1.6" stroke-linecap="butt"/>
<rect x="320.9" y="684.2" width="27.2" height="95.8" fill="#0000f5" stroke="none" stroke-width="0"/>
<line x1="321.7" y1="684.2" x2="321.7" y2="780.0" stroke="#000060" stroke-width="1.6" stroke-linecap="butt"/>
<line x1="347.3" y1="684.2" x2="347.3" y2="780.0" stroke="#000060" stroke-width="1.6" stroke-linecap="butt"/>
<rect x="320.9" y="614.0" width="27.2" height="51.4" fill="#0000f5" stroke="none" stroke-width="0"/>
<line x1="321.7" y1="614.0" x2="321.7" y2="665.4" stroke="#000060" stroke-width="1.6" stroke-linecap="butt"/>
<line x1="347.3" y1="614.0" x2="347.3" y2="665.4" stroke="#000060" stroke-width="1.6" stroke-linecap="butt"/>
<line x1="320.9" y1="614.8" x2="348.1" y2="614.8" stroke="#000060" stroke-width="1.6" stroke-linecap="butt"/>
<line x1="334.5" y1="609.5" x2="334.5" y2="615.5" stroke="#000" stroke-width="2.0" stroke-linecap="butt"/>
<line x1="328.0" y1="609.5" x2="341.0" y2="609.5" stroke="#000" stroke-width="2.0" stroke-linecap="butt"/>
<line x1="328.0" y1="615.5" x2="341.0" y2="615.5" stroke="#000" stroke-width="2.0" stroke-linecap="butt"/>
<circle cx="331.6" cy="608.9" r="3.3" fill="#000"/>
<circle cx="343.0" cy="611.4" r="3.3" fill="#000"/>
<circle cx="325.0" cy="612.5" r="3.3" fill="#000"/>
<circle cx="336.7" cy="615.8" r="3.3" fill="#000"/>
<rect x="370.6" y="834.6" width="26.5" height="125.7" fill="#fff" stroke="none" stroke-width="0"/>
<line x1="371.8" y1="834.6" x2="371.8" y2="960.3" stroke="#000" stroke-width="2.4" stroke-linecap="butt"/>
<line x1="395.9" y1="834.6" x2="395.9" y2="960.3" stroke="#000" stroke-width="2.4" stroke-linecap="butt"/>
<line x1="370.6" y1="835.8" x2="397.1" y2="835.8" stroke="#000" stroke-width="2.4" stroke-linecap="butt"/>
<line x1="384.6" y1="823.4" x2="384.6" y2="844.2" stroke="#000" stroke-width="2.0" stroke-linecap="butt"/>
<line x1="378.1" y1="823.4" x2="391.1" y2="823.4" stroke="#000" stroke-width="2.0" stroke-linecap="butt"/>
<line x1="378.1" y1="844.2" x2="391.1" y2="844.2" stroke="#000" stroke-width="2.0" stroke-linecap="butt"/>
<circle cx="373.8" cy="826.6" r="3.3" fill="#000"/>
<circle cx="394.6" cy="824.2" r="3.3" fill="#000"/>
<circle cx="394.6" cy="839.1" r="3.3" fill="#000"/>
<circle cx="373.8" cy="844.8" r="3.3" fill="#000"/>
<rect x="401.0" y="904.2" width="26.4" height="56.1" fill="#0000f5" stroke="none" stroke-width="0"/>
<line x1="401.8" y1="904.2" x2="401.8" y2="960.3" stroke="#000060" stroke-width="1.6" stroke-linecap="butt"/>
<line x1="426.6" y1="904.2" x2="426.6" y2="960.3" stroke="#000060" stroke-width="1.6" stroke-linecap="butt"/>
<line x1="401.0" y1="905.0" x2="427.4" y2="905.0" stroke="#000060" stroke-width="1.6" stroke-linecap="butt"/>
<line x1="414.2" y1="901.0" x2="414.2" y2="904.5" stroke="#000" stroke-width="2.0" stroke-linecap="butt"/>
<line x1="407.7" y1="901.0" x2="420.7" y2="901.0" stroke="#000" stroke-width="2.0" stroke-linecap="butt"/>
<line x1="407.7" y1="904.5" x2="420.7" y2="904.5" stroke="#000" stroke-width="2.0" stroke-linecap="butt"/>
<circle cx="408.0" cy="901.5" r="3.3" fill="#000"/>
<circle cx="414.0" cy="901.0" r="3.3" fill="#000"/>
<circle cx="421.0" cy="901.0" r="3.3" fill="#000"/>
<circle cx="425.0" cy="901.5" r="3.3" fill="#000"/>
<rect x="529.6" y="799.5" width="26.8" height="160.8" fill="#fff" stroke="none" stroke-width="0"/>
<line x1="530.8" y1="799.5" x2="530.8" y2="960.3" stroke="#000" stroke-width="2.4" stroke-linecap="butt"/>
<line x1="555.2" y1="799.5" x2="555.2" y2="960.3" stroke="#000" stroke-width="2.4" stroke-linecap="butt"/>
<rect x="529.6" y="749.1" width="26.8" height="30.9" fill="#fff" stroke="none" stroke-width="0"/>
<line x1="530.8" y1="749.1" x2="530.8" y2="780.0" stroke="#000" stroke-width="2.4" stroke-linecap="butt"/>
<line x1="555.2" y1="749.1" x2="555.2" y2="780.0" stroke="#000" stroke-width="2.4" stroke-linecap="butt"/>
<line x1="529.6" y1="750.3" x2="556.4" y2="750.3" stroke="#000" stroke-width="2.4" stroke-linecap="butt"/>
<line x1="542.7" y1="744.2" x2="542.7" y2="754.5" stroke="#000" stroke-width="2.0" stroke-linecap="butt"/>
<line x1="536.2" y1="744.2" x2="549.2" y2="744.2" stroke="#000" stroke-width="2.0" stroke-linecap="butt"/>
<line x1="536.2" y1="754.5" x2="549.2" y2="754.5" stroke="#000" stroke-width="2.0" stroke-linecap="butt"/>
<circle cx="533.1" cy="744.5" r="3.3" fill="#000"/>
<circle cx="553.6" cy="748.2" r="3.3" fill="#000"/>
<circle cx="542.7" cy="749.0" r="3.3" fill="#000"/>
<circle cx="542.7" cy="758.2" r="3.3" fill="#000"/>
<rect x="559.6" y="805.5" width="26.8" height="154.8" fill="#0000f5" stroke="none" stroke-width="0"/>
<line x1="560.4" y1="805.5" x2="560.4" y2="960.3" stroke="#000060" stroke-width="1.6" stroke-linecap="butt"/>
<line x1="585.6" y1="805.5" x2="585.6" y2="960.3" stroke="#000060" stroke-width="1.6" stroke-linecap="butt"/>
<line x1="559.6" y1="806.3" x2="586.4" y2="806.3" stroke="#000060" stroke-width="1.6" stroke-linecap="butt"/>
<line x1="573.0" y1="803.5" x2="573.0" y2="805.0" stroke="#000" stroke-width="2.0" stroke-linecap="butt"/>
<line x1="566.5" y1="803.5" x2="579.5" y2="803.5" stroke="#000" stroke-width="2.0" stroke-linecap="butt"/>
<line x1="566.5" y1="805.0" x2="579.5" y2="805.0" stroke="#000" stroke-width="2.0" stroke-linecap="butt"/>
<circle cx="565.0" cy="803.8" r="3.3" fill="#000"/>
<circle cx="571.0" cy="803.4" r="3.3" fill="#000"/>
<circle cx="577.0" cy="803.4" r="3.3" fill="#000"/>
<circle cx="583.0" cy="803.8" r="3.3" fill="#000"/>
<rect x="609.1" y="854.5" width="26.4" height="105.8" fill="#fff" stroke="none" stroke-width="0"/>
<line x1="610.3" y1="854.5" x2="610.3" y2="960.3" stroke="#000" stroke-width="2.4" stroke-linecap="butt"/>
<line x1="634.3" y1="854.5" x2="634.3" y2="960.3" stroke="#000" stroke-width="2.4" stroke-linecap="butt"/>
<line x1="609.1" y1="855.7" x2="635.5" y2="855.7" stroke="#000" stroke-width="2.4" stroke-linecap="butt"/>
<line x1="622.4" y1="849.5" x2="622.4" y2="859.6" stroke="#000" stroke-width="2.0" stroke-linecap="butt"/>
<line x1="615.9" y1="849.5" x2="628.9" y2="849.5" stroke="#000" stroke-width="2.0" stroke-linecap="butt"/>
<line x1="615.9" y1="859.6" x2="628.9" y2="859.6" stroke="#000" stroke-width="2.0" stroke-linecap="butt"/>
<circle cx="612.7" cy="848.2" r="3.3" fill="#000"/>
<circle cx="632.7" cy="854.5" r="3.3" fill="#000"/>
<circle cx="627.3" cy="854.5" r="3.3" fill="#000"/>
<circle cx="612.7" cy="861.8" r="3.3" fill="#000"/>
<rect x="639.1" y="869.5" width="27.3" height="90.8" fill="#0000f5" stroke="none" stroke-width="0"/>
<line x1="639.9" y1="869.5" x2="639.9" y2="960.3" stroke="#000060" stroke-width="1.6" stroke-linecap="butt"/>
<line x1="665.6" y1="869.5" x2="665.6" y2="960.3" stroke="#000060" stroke-width="1.6" stroke-linecap="butt"/>
<line x1="639.1" y1="870.3" x2="666.4" y2="870.3" stroke="#000060" stroke-width="1.6" stroke-linecap="butt"/>
<line x1="651.8" y1="851.8" x2="651.8" y2="885.5" stroke="#000" stroke-width="2.0" stroke-linecap="butt"/>
<line x1="645.3" y1="851.8" x2="658.3" y2="851.8" stroke="#000" stroke-width="2.0" stroke-linecap="butt"/>
<line x1="645.3" y1="885.5" x2="658.3" y2="885.5" stroke="#000" stroke-width="2.0" stroke-linecap="butt"/>
<circle cx="651.8" cy="845.5" r="3.3" fill="#000"/>
<circle cx="642.7" cy="867.3" r="3.3" fill="#000"/>
<circle cx="661.8" cy="875.5" r="3.3" fill="#000"/>
<circle cx="651.8" cy="880.0" r="3.3" fill="#000"/>
<text x="477.7" y="948.0" font-size="16.6" font-weight="normal" text-anchor="middle" fill="#000" >ND</text>
<line x1="116.8" y1="962.1" x2="116.8" y2="798.5" stroke="#000" stroke-width="3.6" stroke-linecap="butt"/>
<line x1="116.8" y1="782.8" x2="116.8" y2="683.2" stroke="#000" stroke-width="3.6" stroke-linecap="butt"/>
<line x1="116.8" y1="668.2" x2="116.8" y2="601.2" stroke="#000" stroke-width="3.6" stroke-linecap="butt"/>
<line x1="106.8" y1="960.3" x2="116.8" y2="960.3" stroke="#000" stroke-width="3.6" stroke-linecap="butt"/>
<text x="104.1" y="967.4" font-size="18.6" font-weight="bold" text-anchor="end" fill="#000" >0.0</text>
<line x1="106.8" y1="898.3" x2="116.8" y2="898.3" stroke="#000" stroke-width="3.6" stroke-linecap="butt"/>
<text x="104.1" y="905.4" font-size="18.6" font-weight="bold" text-anchor="end" fill="#000" >0.1</text>
<line x1="106.8" y1="836.3" x2="116.8" y2="836.3" stroke="#000" stroke-width="3.6" stroke-linecap="butt"/>
<text x="104.1" y="843.4" font-size="18.6" font-weight="bold" text-anchor="end" fill="#000" >0.2</text>
<line x1="111.0" y1="800.3" x2="122.6" y2="800.3" stroke="#000" stroke-width="3.6" stroke-linecap="butt"/>
<line x1="111.0" y1="781.0" x2="122.6" y2="781.0" stroke="#000" stroke-width="3.6" stroke-linecap="butt"/>
<text x="104.1" y="788.1" font-size="18.6" font-weight="bold" text-anchor="end" fill="#000" >0.3</text>
<line x1="106.8" y1="740.2" x2="116.8" y2="740.2" stroke="#000" stroke-width="3.6" stroke-linecap="butt"/>
<text x="104.1" y="747.3" font-size="18.6" font-weight="bold" text-anchor="end" fill="#000" >0.6</text>
<line x1="106.8" y1="699.5" x2="116.8" y2="699.5" stroke="#000" stroke-width="3.6" stroke-linecap="butt"/>
<text x="104.1" y="706.6" font-size="18.6" font-weight="bold" text-anchor="end" fill="#000" >0.9</text>
<line x1="111.0" y1="685.0" x2="122.6" y2="685.0" stroke="#000" stroke-width="3.6" stroke-linecap="butt"/>
<line x1="111.0" y1="666.4" x2="122.6" y2="666.4" stroke="#000" stroke-width="3.6" stroke-linecap="butt"/>
<text x="104.1" y="673.5" font-size="18.6" font-weight="bold" text-anchor="end" fill="#000" >1</text>
<line x1="106.8" y1="635.0" x2="116.8" y2="635.0" stroke="#000" stroke-width="3.6" stroke-linecap="butt"/>
<text x="104.1" y="642.1" font-size="18.6" font-weight="bold" text-anchor="end" fill="#000" >2</text>
<line x1="106.8" y1="603.0" x2="116.8" y2="603.0" stroke="#000" stroke-width="3.6" stroke-linecap="butt"/>
<text x="104.1" y="610.1" font-size="18.6" font-weight="bold" text-anchor="end" fill="#000" >3</text>
<line x1="107.0" y1="960.3" x2="680.5" y2="960.3" stroke="#000" stroke-width="3.6" stroke-linecap="butt"/>
<line x1="160.2" y1="960.3" x2="160.2" y2="971.8" stroke="#000" stroke-width="3.6" stroke-linecap="butt"/>
<line x1="239.6" y1="960.3" x2="239.6" y2="971.8" stroke="#000" stroke-width="3.6" stroke-linecap="butt"/>
<line x1="318.9" y1="960.3" x2="318.9" y2="971.8" stroke="#000" stroke-width="3.6" stroke-linecap="butt"/>
<line x1="398.3" y1="960.3" x2="398.3" y2="971.8" stroke="#000" stroke-width="3.6" stroke-linecap="butt"/>
<line x1="477.7" y1="960.3" x2="477.7" y2="971.8" stroke="#000" stroke-width="3.6" stroke-linecap="butt"/>
<line x1="557.0" y1="960.3" x2="557.0" y2="971.8" stroke="#000" stroke-width="3.6" stroke-linecap="butt"/>
<line x1="636.4" y1="960.3" x2="636.4" y2="971.8" stroke="#000" stroke-width="3.6" stroke-linecap="butt"/>
<text x="168.2" y="993.3" font-size="23.4" font-weight="bold" text-anchor="end" fill="#000" transform="rotate(-45 168.2 993.3)" >Glu C4</text>
<text x="247.6" y="993.3" font-size="23.4" font-weight="bold" text-anchor="end" fill="#000" transform="rotate(-45 247.6 993.3)" >GABA C2</text>
<text x="326.9" y="993.3" font-size="23.4" font-weight="bold" text-anchor="end" fill="#000" transform="rotate(-45 326.9 993.3)" >Lactate C3</text>
<text x="406.3" y="993.3" font-size="23.4" font-weight="bold" text-anchor="end" fill="#000" transform="rotate(-45 406.3 993.3)" >Gln C4</text>
<text x="485.7" y="993.3" font-size="23.4" font-weight="bold" text-anchor="end" fill="#000" transform="rotate(-45 485.7 993.3)" >Asp C3</text>
<text x="565.0" y="993.3" font-size="23.4" font-weight="bold" text-anchor="end" fill="#000" transform="rotate(-45 565.0 993.3)" >Ala C3</text>
<text x="644.4" y="993.3" font-size="23.4" font-weight="bold" text-anchor="end" fill="#000" transform="rotate(-45 644.4 993.3)" >Citrate C2</text>
<line x1="140.2" y1="707.3" x2="185.0" y2="707.3" stroke="#3232b6" stroke-width="3.9" stroke-linecap="butt"/>
<text x="161.0" y="710.5" font-size="33" font-weight="bold" text-anchor="middle" fill="#2424cc" >*</text>
<line x1="217.6" y1="810.2" x2="262.3" y2="810.2" stroke="#3232b6" stroke-width="3.9" stroke-linecap="butt"/>
<text x="239.7" y="813.4" font-size="33" font-weight="bold" text-anchor="middle" fill="#2424cc" >*</text>
<line x1="376.7" y1="806.3" x2="421.6" y2="806.3" stroke="#3232b6" stroke-width="3.9" stroke-linecap="butt"/>
<text x="398.7" y="809.5" font-size="33" font-weight="bold" text-anchor="middle" fill="#2424cc" >*</text>
<line x1="537.3" y1="727.6" x2="582.2" y2="727.6" stroke="#3232b6" stroke-width="3.9" stroke-linecap="butt"/>
<text x="558.2" y="730.8" font-size="33" font-weight="bold" text-anchor="middle" fill="#2424cc" >*</text>
<text x="426.1" y="568.3" font-size="27" font-weight="normal" text-anchor="start" fill="#1b1b86" textLength="243.5" lengthAdjust="spacingAndGlyphs">Isotopomers formed</text>
<text x="426.8" y="601.4" font-size="27" font-weight="normal" text-anchor="start" fill="#1b1b86" textLength="267" lengthAdjust="spacingAndGlyphs">from [1-<tspan font-size="18" dy="-10.5">13</tspan><tspan dy="10.5">C]D-glucose</tspan></text>
<text x="36.3" y="780.5" font-size="24.75" font-weight="bold" text-anchor="middle" fill="#000" transform="rotate(-90 36.3 780.5)" >Incorporation of <tspan font-size="17.8" dy="-10.9">13</tspan><tspan dy="10.9">C</tspan></text>
<text x="65.8" y="780.5" font-size="24.75" font-weight="bold" text-anchor="middle" fill="#000" transform="rotate(-90 65.8 780.5)" textLength="345.5" lengthAdjust="spacing">(<tspan font-weight="normal">µ</tspan>mol/100 mg protein/90 min)</text>
<text x="731.0" y="577.7" font-size="46" font-weight="bold" text-anchor="start" fill="#000" >D</text>
<rect x="850.3" y="694.8" width="37.5" height="265.0" fill="#fff" stroke="none" stroke-width="0"/>
<line x1="851.6" y1="694.8" x2="851.6" y2="959.8" stroke="#000" stroke-width="2.7" stroke-linecap="butt"/>
<line x1="886.4" y1="694.8" x2="886.4" y2="959.8" stroke="#000" stroke-width="2.7" stroke-linecap="butt"/>
<line x1="850.3" y1="696.1" x2="887.8" y2="696.1" stroke="#000" stroke-width="2.7" stroke-linecap="butt"/>
<rect x="892.3" y="821.1" width="37.5" height="138.7" fill="#f24040" stroke="none" stroke-width="0"/>
<line x1="893.6" y1="821.1" x2="893.6" y2="959.8" stroke="#000" stroke-width="2.7" stroke-linecap="butt"/>
<line x1="928.4" y1="821.1" x2="928.4" y2="959.8" stroke="#000" stroke-width="2.7" stroke-linecap="butt"/>
<line x1="892.3" y1="822.5" x2="929.8" y2="822.5" stroke="#000" stroke-width="2.7" stroke-linecap="butt"/>
<line x1="869.2" y1="661.9" x2="869.2" y2="727.7" stroke="#000" stroke-width="2.5" stroke-linecap="butt"/>
<line x1="859.9" y1="661.9" x2="878.5" y2="661.9" stroke="#000" stroke-width="2.5" stroke-linecap="butt"/>
<line x1="859.9" y1="727.7" x2="878.5" y2="727.7" stroke="#000" stroke-width="2.5" stroke-linecap="butt"/>
<line x1="911.0" y1="809.6" x2="911.0" y2="821.1" stroke="#000" stroke-width="2.5" stroke-linecap="butt"/>
<line x1="901.7" y1="809.6" x2="920.3" y2="809.6" stroke="#000" stroke-width="2.5" stroke-linecap="butt"/>
<circle cx="869.2" cy="658.1" r="3.25" fill="#000"/>
<circle cx="869.2" cy="677.2" r="3.25" fill="#000"/>
<circle cx="869.2" cy="709.1" r="3.25" fill="#000"/>
<circle cx="869.2" cy="734.1" r="3.25" fill="#000"/>
<circle cx="910.0" cy="805.8" r="3.25" fill="#000"/>
<circle cx="910.0" cy="817.0" r="3.25" fill="#000"/>
<circle cx="917.7" cy="825.8" r="3.25" fill="#000"/>
<circle cx="903.0" cy="831.7" r="3.25" fill="#000"/>
<rect x="961.6" y="847.6" width="37.5" height="112.2" fill="#fff" stroke="none" stroke-width="0"/>
<line x1="963.0" y1="847.6" x2="963.0" y2="959.8" stroke="#000" stroke-width="2.7" stroke-linecap="butt"/>
<line x1="997.8" y1="847.6" x2="997.8" y2="959.8" stroke="#000" stroke-width="2.7" stroke-linecap="butt"/>
<line x1="961.6" y1="848.9" x2="999.1" y2="848.9" stroke="#000" stroke-width="2.7" stroke-linecap="butt"/>
<rect x="1003.6" y="905.7" width="37.5" height="54.1" fill="#f24040" stroke="none" stroke-width="0"/>
<line x1="1005.0" y1="905.7" x2="1005.0" y2="959.8" stroke="#000" stroke-width="2.7" stroke-linecap="butt"/>
<line x1="1039.8" y1="905.7" x2="1039.8" y2="959.8" stroke="#000" stroke-width="2.7" stroke-linecap="butt"/>
<line x1="1003.6" y1="907.1" x2="1041.2" y2="907.1" stroke="#000" stroke-width="2.7" stroke-linecap="butt"/>
<line x1="980.5" y1="833.2" x2="980.5" y2="861.9" stroke="#000" stroke-width="2.5" stroke-linecap="butt"/>
<line x1="971.2" y1="833.2" x2="989.8" y2="833.2" stroke="#000" stroke-width="2.5" stroke-linecap="butt"/>
<line x1="971.2" y1="861.9" x2="989.8" y2="861.9" stroke="#000" stroke-width="2.5" stroke-linecap="butt"/>
<line x1="1022.4" y1="894.2" x2="1022.4" y2="905.7" stroke="#000" stroke-width="2.5" stroke-linecap="butt"/>
<line x1="1013.1" y1="894.2" x2="1031.7" y2="894.2" stroke="#000" stroke-width="2.5" stroke-linecap="butt"/>
<circle cx="974.1" cy="834.7" r="3.25" fill="#000"/>
<circle cx="986.9" cy="832.9" r="3.25" fill="#000"/>
<circle cx="974.1" cy="859.5" r="3.25" fill="#000"/>
<circle cx="986.9" cy="859.5" r="3.25" fill="#000"/>
<circle cx="1022.4" cy="890.9" r="3.25" fill="#000"/>
<circle cx="1014.6" cy="906.3" r="3.25" fill="#000"/>
<circle cx="1029.5" cy="910.0" r="3.25" fill="#000"/>
<circle cx="1014.6" cy="917.7" r="3.25" fill="#000"/>
<rect x="1073.0" y="833.5" width="37.5" height="126.3" fill="#fff" stroke="none" stroke-width="0"/>
<line x1="1074.3" y1="833.5" x2="1074.3" y2="959.8" stroke="#000" stroke-width="2.7" stroke-linecap="butt"/>
<line x1="1109.2" y1="833.5" x2="1109.2" y2="959.8" stroke="#000" stroke-width="2.7" stroke-linecap="butt"/>
<line x1="1073.0" y1="834.8" x2="1110.5" y2="834.8" stroke="#000" stroke-width="2.7" stroke-linecap="butt"/>
<rect x="1115.0" y="925.0" width="37.5" height="34.8" fill="#f24040" stroke="none" stroke-width="0"/>
<line x1="1116.3" y1="925.0" x2="1116.3" y2="959.8" stroke="#000" stroke-width="2.7" stroke-linecap="butt"/>
<line x1="1151.2" y1="925.0" x2="1151.2" y2="959.8" stroke="#000" stroke-width="2.7" stroke-linecap="butt"/>
<line x1="1115.0" y1="926.4" x2="1152.5" y2="926.4" stroke="#000" stroke-width="2.7" stroke-linecap="butt"/>
<line x1="1091.9" y1="791.5" x2="1091.9" y2="875.4" stroke="#000" stroke-width="2.5" stroke-linecap="butt"/>
<line x1="1082.6" y1="791.5" x2="1101.2" y2="791.5" stroke="#000" stroke-width="2.5" stroke-linecap="butt"/>
<line x1="1082.6" y1="875.4" x2="1101.2" y2="875.4" stroke="#000" stroke-width="2.5" stroke-linecap="butt"/>
<line x1="1133.7" y1="920.1" x2="1133.7" y2="925.0" stroke="#000" stroke-width="2.5" stroke-linecap="butt"/>
<line x1="1124.4" y1="920.1" x2="1143.0" y2="920.1" stroke="#000" stroke-width="2.5" stroke-linecap="butt"/>
<circle cx="1091.9" cy="775.7" r="3.25" fill="#000"/>
<circle cx="1084.1" cy="840.3" r="3.25" fill="#000"/>
<circle cx="1099.3" cy="841.6" r="3.25" fill="#000"/>
<circle cx="1091.9" cy="875.4" r="3.25" fill="#000"/>
<circle cx="1148.7" cy="917.5" r="3.25" fill="#000"/>
<circle cx="1133.7" cy="924.5" r="3.25" fill="#000"/>
<circle cx="1119.7" cy="928.8" r="3.25" fill="#000"/>
<circle cx="1148.7" cy="926.9" r="3.25" fill="#000"/>
<text x="1220.6" y="945.8" font-size="16.6" font-weight="normal" text-anchor="middle" fill="#000" >ND</text>
<rect x="1295.7" y="839.4" width="37.5" height="120.4" fill="#fff" stroke="none" stroke-width="0"/>
<line x1="1297.0" y1="839.4" x2="1297.0" y2="959.8" stroke="#000" stroke-width="2.7" stroke-linecap="butt"/>
<line x1="1331.8" y1="839.4" x2="1331.8" y2="959.8" stroke="#000" stroke-width="2.7" stroke-linecap="butt"/>
<line x1="1295.7" y1="840.8" x2="1333.2" y2="840.8" stroke="#000" stroke-width="2.7" stroke-linecap="butt"/>
<rect x="1337.7" y="865.0" width="37.5" height="94.8" fill="#f24040" stroke="none" stroke-width="0"/>
<line x1="1339.0" y1="865.0" x2="1339.0" y2="959.8" stroke="#000" stroke-width="2.7" stroke-linecap="butt"/>
<line x1="1373.8" y1="865.0" x2="1373.8" y2="959.8" stroke="#000" stroke-width="2.7" stroke-linecap="butt"/>
<line x1="1337.7" y1="866.3" x2="1375.2" y2="866.3" stroke="#000" stroke-width="2.7" stroke-linecap="butt"/>
<line x1="1314.6" y1="812.3" x2="1314.6" y2="866.6" stroke="#000" stroke-width="2.5" stroke-linecap="butt"/>
<line x1="1305.3" y1="812.3" x2="1323.9" y2="812.3" stroke="#000" stroke-width="2.5" stroke-linecap="butt"/>
<line x1="1305.3" y1="866.6" x2="1323.9" y2="866.6" stroke="#000" stroke-width="2.5" stroke-linecap="butt"/>
<line x1="1356.4" y1="852.5" x2="1356.4" y2="865.0" stroke="#000" stroke-width="2.5" stroke-linecap="butt"/>
<line x1="1347.1" y1="852.5" x2="1365.7" y2="852.5" stroke="#000" stroke-width="2.5" stroke-linecap="butt"/>
<circle cx="1314.6" cy="800.0" r="3.25" fill="#000"/>
<circle cx="1307.4" cy="843.6" r="3.25" fill="#000"/>
<circle cx="1321.8" cy="850.5" r="3.25" fill="#000"/>
<circle cx="1314.6" cy="861.2" r="3.25" fill="#000"/>
<circle cx="1356.4" cy="846.0" r="3.25" fill="#000"/>
<circle cx="1356.4" cy="868.4" r="3.25" fill="#000"/>
<circle cx="1341.6" cy="872.0" r="3.25" fill="#000"/>
<circle cx="1371.5" cy="870.5" r="3.25" fill="#000"/>
<line x1="831.5" y1="961.6" x2="831.5" y2="605.4" stroke="#000" stroke-width="3.6" stroke-linecap="butt"/>
<line x1="821.5" y1="959.8" x2="831.5" y2="959.8" stroke="#000" stroke-width="3.6" stroke-linecap="butt"/>
<text x="818.8" y="966.9" font-size="18.6" font-weight="bold" text-anchor="end" fill="#000" >0.0</text>
<line x1="821.5" y1="842.3" x2="831.5" y2="842.3" stroke="#000" stroke-width="3.6" stroke-linecap="butt"/>
<text x="818.8" y="849.4" font-size="18.6" font-weight="bold" text-anchor="end" fill="#000" >0.1</text>
<line x1="821.5" y1="724.7" x2="831.5" y2="724.7" stroke="#000" stroke-width="3.6" stroke-linecap="butt"/>
<text x="818.8" y="731.8" font-size="18.6" font-weight="bold" text-anchor="end" fill="#000" >0.2</text>
<line x1="821.5" y1="607.2" x2="831.5" y2="607.2" stroke="#000" stroke-width="3.6" stroke-linecap="butt"/>
<text x="818.8" y="614.3" font-size="18.6" font-weight="bold" text-anchor="end" fill="#000" >0.3</text>
<line x1="822.0" y1="959.8" x2="1395.5" y2="959.8" stroke="#000" stroke-width="3.6" stroke-linecap="butt"/>
<line x1="888.6" y1="959.8" x2="888.6" y2="971.3" stroke="#000" stroke-width="3.6" stroke-linecap="butt"/>
<line x1="1000.0" y1="959.8" x2="1000.0" y2="971.3" stroke="#000" stroke-width="3.6" stroke-linecap="butt"/>
<line x1="1111.4" y1="959.8" x2="1111.4" y2="971.3" stroke="#000" stroke-width="3.6" stroke-linecap="butt"/>
<line x1="1222.8" y1="959.8" x2="1222.8" y2="971.3" stroke="#000" stroke-width="3.6" stroke-linecap="butt"/>
<line x1="1334.2" y1="959.8" x2="1334.2" y2="971.3" stroke="#000" stroke-width="3.6" stroke-linecap="butt"/>
<text x="896.6" y="992.8" font-size="23.4" font-weight="bold" text-anchor="end" fill="#000" transform="rotate(-45 896.6 992.8)" >Glu C4,5</text>
<text x="1008.0" y="992.8" font-size="23.4" font-weight="bold" text-anchor="end" fill="#000" transform="rotate(-45 1008.0 992.8)" >GABA C2,1</text>
<text x="1119.4" y="992.8" font-size="23.4" font-weight="bold" text-anchor="end" fill="#000" transform="rotate(-45 1119.4 992.8)" >Gln C4,5</text>
<text x="1230.8" y="992.8" font-size="23.4" font-weight="bold" text-anchor="end" fill="#000" transform="rotate(-45 1230.8 992.8)" >Asp C3,4</text>
<text x="1342.2" y="992.8" font-size="23.4" font-weight="bold" text-anchor="end" fill="#000" transform="rotate(-45 1342.2 992.8)" >Citrate C2,1</text>
<line x1="858.9" y1="641.8" x2="921.1" y2="641.8" stroke="#c93434" stroke-width="4.1" stroke-linecap="butt"/>
<text x="890.4" y="643.5" font-size="35" font-weight="bold" text-anchor="middle" fill="#e03232" >*</text>
<line x1="970.5" y1="815.6" x2="1032.5" y2="815.6" stroke="#c93434" stroke-width="4.1" stroke-linecap="butt"/>
<text x="1002.0" y="816.5" font-size="35" font-weight="bold" text-anchor="middle" fill="#e03232" >*</text>
<line x1="1081.6" y1="760.3" x2="1142.0" y2="760.3" stroke="#c93434" stroke-width="4.1" stroke-linecap="butt"/>
<text x="1112.0" y="761.4" font-size="35" font-weight="bold" text-anchor="middle" fill="#e03232" >*</text>
<line x1="1304.0" y1="783.7" x2="1365.0" y2="783.7" stroke="#c93434" stroke-width="4.1" stroke-linecap="butt"/>
<text x="1335.0" y="786.1" font-size="35" font-weight="bold" text-anchor="middle" fill="#e03232" >*</text>
<text x="1142.0" y="567.8" font-size="27" font-weight="normal" text-anchor="start" fill="#cb3a3a" textLength="243.6" lengthAdjust="spacingAndGlyphs">Isotopomers formed</text>
<text x="1141.7" y="601.2" font-size="27" font-weight="normal" text-anchor="start" fill="#cb3a3a" textLength="256" lengthAdjust="spacingAndGlyphs">from [1,2-<tspan font-size="18" dy="-10.5">13</tspan><tspan dy="10.5">C]acetate</tspan></text>
<text x="751.0" y="783.5" font-size="24.2" font-weight="bold" text-anchor="middle" fill="#000" transform="rotate(-90 751.0 783.5)" >Incorporation of <tspan font-size="17.4" dy="-10.6">13</tspan><tspan dy="10.6">C</tspan></text>
<text x="781.0" y="783.5" font-size="24.2" font-weight="bold" text-anchor="middle" fill="#000" transform="rotate(-90 781.0 783.5)" textLength="340.5" lengthAdjust="spacing">(<tspan font-weight="normal">µ</tspan>mol/100 mg protein/90 min)</text>
</svg>
</body></html>
